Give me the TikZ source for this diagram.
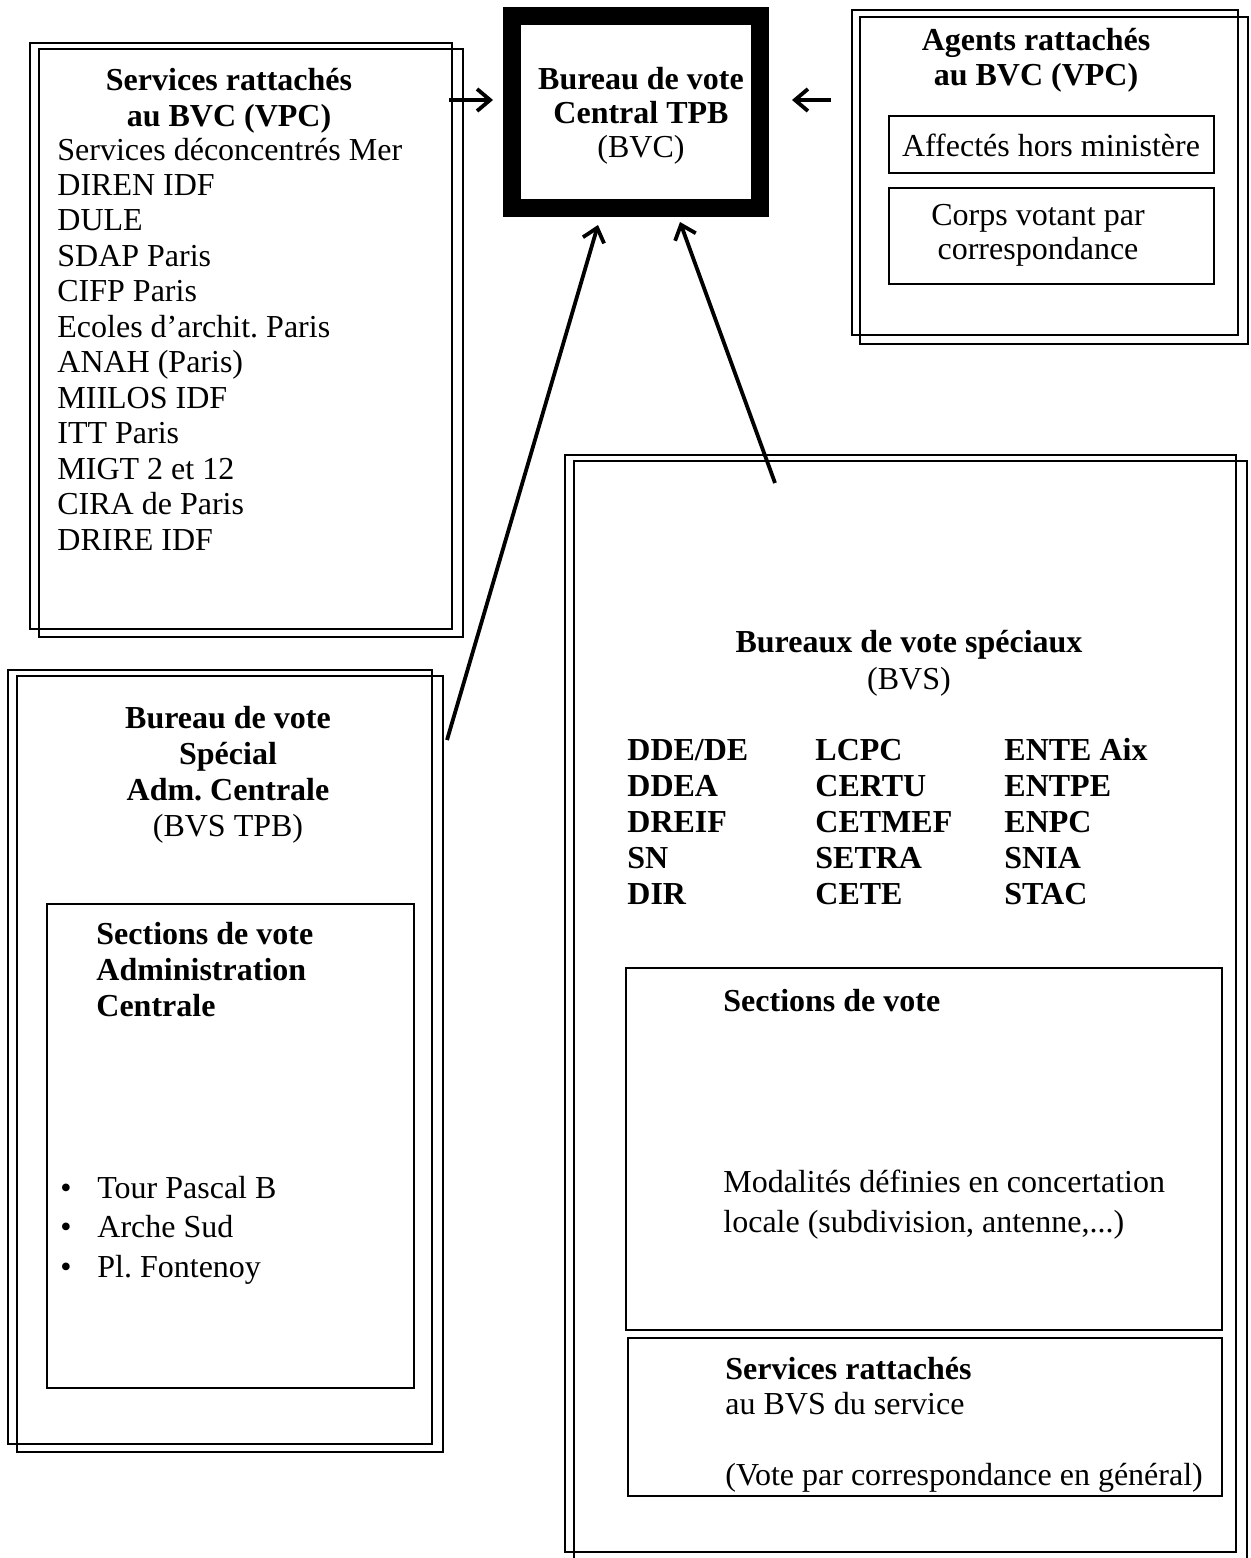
\documentclass[tikz,border=0pt]{standalone}
\usepackage{fontspec}
\setmainfont{Liberation Serif}
\usetikzlibrary{arrows.meta,fit}
\newcommand\fsz{\fontsize{16}{19}\selectfont}
\frenchspacing
\begin{document}
\begin{tikzpicture}[x=0.5pt,y=-0.5pt,
  boxline/.style={draw, line width=0.9pt},
  box/.style={boxline, inner sep=0pt},
  t/.style={font=\fsz, inner sep=0pt},
  b/.style={font=\fsz\bfseries, inner sep=0pt},
  arr/.style={line width=1.9pt, -{Straight Barb[length=6.5pt,width=11pt,line width=1.9pt]}}]
\useasboundingbox (0,0) rectangle (1250,1558);

% ---------- top left box ----------
\node[box, fit={(30,43)(452,629)}] (svc) {};
\draw[boxline] ([shift={(10,7)}]svc.north west) rectangle ([shift={(10,7)}]svc.south east);
\node[b, anchor=base] (svct1) at (229,90) {Services rattachés};
\node[b, anchor=base] (svct2) at (229,126) {au BVC (VPC)};
\foreach \s [count=\i] in {Services déconcentrés Mer, DIREN IDF, DULE, SDAP Paris, CIFP Paris,
  Ecoles d’archit. Paris, ANAH (Paris), MIILOS IDF, ITT Paris, MIGT 2 et 12, CIRA de Paris, DRIRE IDF}
  \node[t, anchor=base west] (svcl\i) at (57,{124.6+35.45*\i}) {\s};

% ---------- central box ----------
\node[draw, line width=9pt, inner sep=0pt, fit={(512,16)(760,208)}] (bvc) {};
\node[b, anchor=base] (bvct1) at (641,89) {Bureau de vote};
\node[b, anchor=base] (bvct2) at (641,123) {Central TPB};
\node[t, anchor=base] (bvct3) at (641,157) {(BVC)};

% ---------- top right box ----------
\node[box, fit={(852,10)(1238,335)}] (agt) {};
\draw[boxline] ([shift={(9,8)}]agt.north west) rectangle ([shift={(9,8)}]agt.south east);
\node[b, anchor=base] (agtt1) at (1036,50) {Agents rattachés};
\node[b, anchor=base] (agtt2) at (1036,85) {au BVC (VPC)};
\node[box, fit={(889,116)(1214,173)}] (aff) {};
\node[t, anchor=base] (afft) at (1051,156) {Affectés hors ministère};
\node[box, fit={(889,188)(1214,284)}] (crp) {};
\node[t, anchor=base] (crpt1) at (1038,225) {Corps votant par};
\node[t, anchor=base] (crpt2) at (1038,259) {correspondance};

% ---------- bottom left box ----------
\node[box, fit={(8,670)(432,1444)}] (bvsac) {};
\draw[boxline] ([shift={(10,7)}]bvsac.north west) rectangle ([shift={(10,7)}]bvsac.south east);
\node[b, anchor=base] (bvsact1) at (228,728) {Bureau de vote};
\node[b, anchor=base] (bvsact2) at (228,764) {Spécial};
\node[b, anchor=base] (bvsact3) at (228,800) {Adm. Centrale};
\node[t, anchor=base] (bvsact4) at (228,836) {(BVS TPB)};
\node[box, fit={(47,904)(414,1388)}] (secac) {};
\node[b, anchor=base west] (secact1) at (96,944) {Sections de vote};
\node[b, anchor=base west] (secact2) at (96,980) {Administration};
\node[b, anchor=base west] (secact3) at (96,1016) {Centrale};
\foreach \s/\y [count=\i] in {Tour Pascal B/1198, Arche Sud/1237, Pl. Fontenoy/1277}{
  \node[t, anchor=base] (bul\i) at (66,\y) {•};
  \node[t, anchor=base west] (buli\i) at (97,\y) {\s};
}

% ---------- big right box ----------
\node[box, fit={(565,455)(1236,1552)}] (bvs) {};
\draw[boxline] ([shift={(10,7)}]bvs.north west) rectangle ([shift={(10,7)}]bvs.south east);
\node[b, anchor=base] (bvst1) at (909,652) {Bureaux de vote spéciaux};
\node[t, anchor=base] (bvst2) at (909,689) {(BVS)};
\node[b, anchor=base west] (ca0) at (627,760) {DDE/DE};
\node[b, anchor=base west] (cb0) at (815,760) {LCPC};
\node[b, anchor=base west] (cc0) at (1004,760) {ENTE Aix};
\foreach \a/\bb/\c [count=\i] in {DDEA/CERTU/ENTPE, DREIF/CETMEF/ENPC, SN/SETRA/SNIA, DIR/CETE/STAC}{
  \node[b, anchor=base west] (ca\i) at (627,{760+36*\i}) {\a};
  \node[b, anchor=base west] (cb\i) at (815,{760+36*\i}) {\bb};
  \node[b, anchor=base west] (cc\i) at (1004,{760+36*\i}) {\c};
}

\node[box, fit={(626,968)(1222,1330)}] (sec) {};
\node[b, anchor=base west] (sect1) at (723,1011) {Sections de vote};
\node[t, anchor=base west] (sect2) at (723,1192) {Modalités définies en concertation};
\node[t, anchor=base west] (sect3) at (723,1232) {locale (subdivision, antenne,...)};

\node[box, fit={(628,1338)(1222,1496)}] (sra) {};
\node[b, anchor=base west] (srat1) at (725,1379) {Services rattachés};
\node[t, anchor=base west] (srat2) at (725,1414) {au BVS du service};
\node[t, anchor=base west] (srat3) at (725,1485) {(Vote par correspondance en général)};

% ---------- connectors ----------
\coordinate (p1s) at (449,100);
\coordinate (p1e) at (493,100);
\coordinate (p2s) at (831,100);
\coordinate (p2e) at (792,100);
\coordinate (p3s) at (447,740);
\coordinate (p3e) at (598,225);
\coordinate (p4s) at (775,483);
\coordinate (p4e) at (680,222);
\draw[arr] (p1s) -- (p1e);
\draw[arr] (p2s) -- (p2e);
\draw[arr] (p3s) -- (p3e);
\draw[arr] (p4s) -- (p4e);
\end{tikzpicture}
\end{document}
